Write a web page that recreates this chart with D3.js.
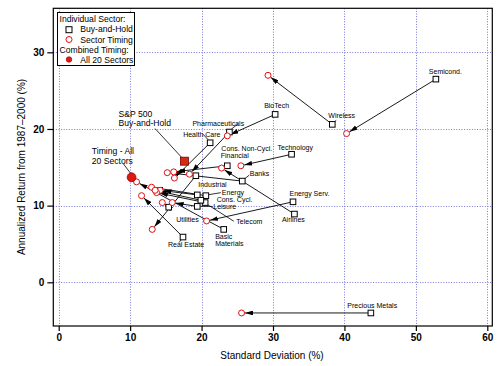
<!DOCTYPE html>
<html><head><meta charset="utf-8">
<script src="https://cdn.jsdelivr.net/npm/d3@7"></script>
<style>body{margin:0;background:#fff}svg{display:block}text{font-family:"Liberation Sans",Arial,sans-serif;fill:#000}</style>
</head><body><svg id="c" width="500" height="366"></svg>
<script>
// ---- data ----
const sectors = ["Semicond.","Wireless","BioTech","Pharmaceuticals","Health Care","Cons. Non-Cycl.","Financial","Technology","Banks","Industrial","Energy","Cons. Cycl.","Leisure","Utilities","Telecom","Basic Materials","Real Estate","Energy Serv.","Airlines","Precious Metals"];
const bhSD  = [52.8,38.3,30.3,23.9,21.2,19.2,23.6,32.6,25.7,19.4,20.6,20.5,19.4,15.4,19.9,23.1,17.4,32.8,33.0,43.7];
const bhRet = [26.5,20.6,21.9,19.6,18.2,13.9,15.2,16.7,13.2,11.4,11.3,10.4,9.9,9.8,10.7,6.9,5.9,10.5,8.9,-4.0];
const timSD  = [40.3,29.3,23.6,18.3,16.2,13.1,16.1,25.5,15.2,14.2,13.0,13.7,15.9,14.5,13.5,10.9,11.6,20.7,22.8,25.6];
const timRet = [19.4,27.0,19.1,14.1,13.6,6.9,14.4,15.2,14.3,12.0,12.4,11.7,10.4,10.4,12.0,13.1,11.3,8.0,14.9,-4.0];
const combinedSD = [10.2], combinedRet = [13.7];
const sp500SD = [17.6], sp500Ret = [15.8];
const xTicks = [0,10,20,30,40,50,60];
const yTicks = [0,10,20,30];
const xTitle = "Standard Deviation (%)";
const yTitle = "Annualized Return from 1987\u20132000 (%)";
const legendLines = ["Individual Sector:","Buy-and-Hold","Sector Timing","Combined Timing:","All 20 Sectors"];

// ---- layout (label placement relative to the buy-and-hold square, px) ----
const labelOff = {
 "Semicond.":[-7,-5.5],"Wireless":[-4,-6.5],"BioTech":[-11,-6],"Pharmaceuticals":[-37,-6.5],
 "Health Care":[-27,-6],"Cons. Non-Cycl.":[25.5,-25],"Financial":[-6.5,-8],"Technology":[-14,-4.5],
 "Banks":[7.5,-5.5],"Industrial":[1,-8],"Energy":[16,-1],"Cons. Cycl.":[11.5,-1],"Leisure":[16,2.3],
 "Utilities":[7.5,15],"Telecom":[35.5,24],"Basic Materials":[-8.5,9.5],"Real Estate":[-15,10],
 "Energy Serv.":[-3.5,-5.7],"Airlines":[-12.5,8.2],"Precious Metals":[-23.5,-4.7]
};
const leaders = {"Wireless":[[4,-4],[1,-2]],"Banks":[[2,-2],[7,-6]],"Energy":[[3,-1],[15,-3]],
 "Leisure":[[3,0],[15,0]],"Telecom":[[33,21],[3,2]],"Real Estate":[[-2,3],[-4,5.5]],
 "Pharmaceuticals":[[8.5,-8],[2,-3]],"Health Care":[[-7,-8.5],[-2,-3]]};

const frame = {left:53.3, top:8.3, right:492.3, bottom:326};
const x = d3.scaleLinear().domain([0,60]).range([58.7,487.3]);
const y = d3.scaleLinear().domain([0,30]).range([282.3,52.3]);

const svg = d3.select("#c");
svg.append("rect").attr("width",500).attr("height",366).attr("fill","#fff");

const defs = svg.append("defs");
defs.append("marker").attr("id","ah").attr("viewBox","0 0 10 6").attr("refX",10).attr("refY",3)
  .attr("markerWidth",8).attr("markerHeight",4.8).attr("markerUnits","userSpaceOnUse").attr("orient","auto")
  .append("path").attr("d","M0,0L10,3L0,6Z").attr("fill","#000");

// gridlines
const grid = svg.append("g").attr("stroke","#7878d8").attr("stroke-width",1).attr("stroke-dasharray","1,1.6");
grid.selectAll(".gx").data(xTicks).join("line").attr("x1",d=>Math.round(x(d))+0.5).attr("x2",d=>Math.round(x(d))+0.5)
  .attr("y1",frame.top).attr("y2",frame.bottom);
grid.selectAll(".gy").data(yTicks).join("line").attr("y1",d=>Math.round(y(d))+0.5).attr("y2",d=>Math.round(y(d))+0.5)
  .attr("x1",frame.left).attr("x2",frame.right);

// frame
svg.append("rect").attr("x",frame.left).attr("y",frame.top).attr("width",frame.right-frame.left)
  .attr("height",frame.bottom-frame.top).attr("fill","none").attr("stroke","#000").attr("stroke-width",1.2);

// axes
const ax = svg.append("g").attr("transform",`translate(0,${frame.bottom})`)
  .call(d3.axisBottom(x).tickValues(xTicks).tickSize(5).tickPadding(3).tickSizeOuter(0));
ax.select(".domain").remove();
const ay = svg.append("g").attr("transform",`translate(${frame.left},0)`)
  .call(d3.axisLeft(y).tickValues(yTicks).tickSize(6).tickPadding(3).tickSizeOuter(0));
ay.select(".domain").remove();
svg.selectAll(".tick text").attr("font-size",10).attr("font-family","'Liberation Sans',Arial,sans-serif").attr("font-weight","bold").attr("fill","#111");
svg.selectAll(".tick line").attr("stroke","#000").attr("stroke-width",1.2);

svg.append("text").attr("x",272).attr("y",359).attr("text-anchor","middle").attr("font-size",10).text(xTitle);
svg.append("text").attr("transform","translate(25,167) rotate(-90)").attr("text-anchor","middle").attr("font-size",10).text(yTitle);

// arrows
const rC = 3;
const arrows = svg.append("g");
sectors.forEach((s,i)=>{
  const x0=x(bhSD[i]), y0=y(bhRet[i]), x1=x(timSD[i]), y1=y(timRet[i]);
  const dx=x1-x0, dy=y1-y0, L=Math.hypot(dx,dy);
  const k=(L-rC-0.4)/L;
  arrows.append("line").attr("x1",x0).attr("y1",y0).attr("x2",x0+dx*k).attr("y2",y0+dy*k)
    .attr("stroke","#000").attr("stroke-width",0.9).attr("marker-end","url(#ah)");
});

// leaders
const lead = svg.append("g").attr("stroke","#000").attr("stroke-width",0.8);
sectors.forEach((s,i)=>{
  const l=leaders[s]; if(!l) return;
  const sx=x(bhSD[i]), sy=y(bhRet[i]);
  lead.append("line").attr("x1",sx+l[0][0]).attr("y1",sy+l[0][1]).attr("x2",sx+l[1][0]).attr("y2",sy+l[1][1]);
});
lead.append("line").attr("x1",155).attr("y1",128.5).attr("x2",x(sp500SD[0])-3).attr("y2",y(sp500Ret[0])-4);
lead.append("line").attr("x1",123.5).attr("y1",164).attr("x2",x(combinedSD[0])-1).attr("y2",y(combinedRet[0])-4);

// squares (buy-and-hold)
svg.append("g").selectAll("rect").data(sectors).join("rect")
  .attr("x",(d,i)=>x(bhSD[i])-2.8).attr("y",(d,i)=>y(bhRet[i])-2.8).attr("width",5.6).attr("height",5.6)
  .attr("fill","#fff").attr("stroke","#000").attr("stroke-width",1);
// circles (timing)
svg.append("g").selectAll("circle").data(sectors).join("circle")
  .attr("cx",(d,i)=>x(timSD[i])).attr("cy",(d,i)=>y(timRet[i])).attr("r",rC)
  .attr("fill","#fff").attr("stroke","#e01010").attr("stroke-width",1);
// combined timing dot
svg.append("g").selectAll("circle").data(combinedSD).join("circle")
  .attr("cx",(d,i)=>x(d)).attr("cy",(d,i)=>y(combinedRet[i])).attr("r",4.4)
  .attr("fill","#dd1a10").attr("stroke","#a00000").attr("stroke-width",0.8);
// S&P square
svg.append("g").selectAll("rect").data(sp500SD).join("rect")
  .attr("x",d=>x(d)-4).attr("y",(d,i)=>y(sp500Ret[i])-4).attr("width",8).attr("height",8)
  .attr("fill","#d42a10").attr("stroke","#7a0000").attr("stroke-width",0.8);

// labels
const lab = svg.append("g").attr("font-size",7);
sectors.forEach((s,i)=>{
  const o=labelOff[s], sx=x(bhSD[i]), sy=y(bhRet[i]);
  if(s==="Basic Materials"){
    lab.append("text").attr("x",sx+o[0]).attr("y",sy+o[1]).text("Basic");
    lab.append("text").attr("x",sx+o[0]).attr("y",sy+o[1]+7.2).text("Materials");
  } else {
    lab.append("text").attr("x",sx+o[0]).attr("y",sy+o[1]).text(s);
  }
});
svg.append("text").attr("x",118.5).attr("y",116.5).attr("font-size",8.6).text("S&P 500");
svg.append("text").attr("x",118.5).attr("y",125.8).attr("font-size",8.6).text("Buy-and-Hold");
svg.append("text").attr("x",91.8).attr("y",154.3).attr("font-size",8.6).text("Timing - All");
svg.append("text").attr("x",91.8).attr("y",163.6).attr("font-size",8.6).text("20 Sectors");

// legend
const lg = svg.append("g");
lg.append("rect").attr("x",57.5).attr("y",12.5).attr("width",77).attr("height",53)
  .attr("fill","#fff").attr("stroke","#000").attr("stroke-width",1);
const lgY=[22,32.2,42.6,53.2,63.2];
lg.append("text").attr("x",59.5).attr("y",lgY[0]).attr("font-size",8.6).text(legendLines[0]);
lg.append("rect").attr("x",66).attr("y",26.7).attr("width",6).attr("height",6).attr("fill","#fff").attr("stroke","#000");
lg.append("text").attr("x",80.3).attr("y",lgY[1]).attr("font-size",8.6).text(legendLines[1]);
lg.append("circle").attr("cx",69).attr("cy",39.5).attr("r",3).attr("fill","#fff").attr("stroke","#e01010");
lg.append("text").attr("x",80.3).attr("y",lgY[2]).attr("font-size",8.6).text(legendLines[2]);
lg.append("text").attr("x",59.5).attr("y",lgY[3]).attr("font-size",8.6).text(legendLines[3]);
lg.append("circle").attr("cx",69).attr("cy",59.5).attr("r",2.8).attr("fill","#dd1a10").attr("stroke","#a00000").attr("stroke-width",0.6);
lg.append("text").attr("x",80.3).attr("y",lgY[4]).attr("font-size",8.6).text(legendLines[4]);
</script></body></html>
